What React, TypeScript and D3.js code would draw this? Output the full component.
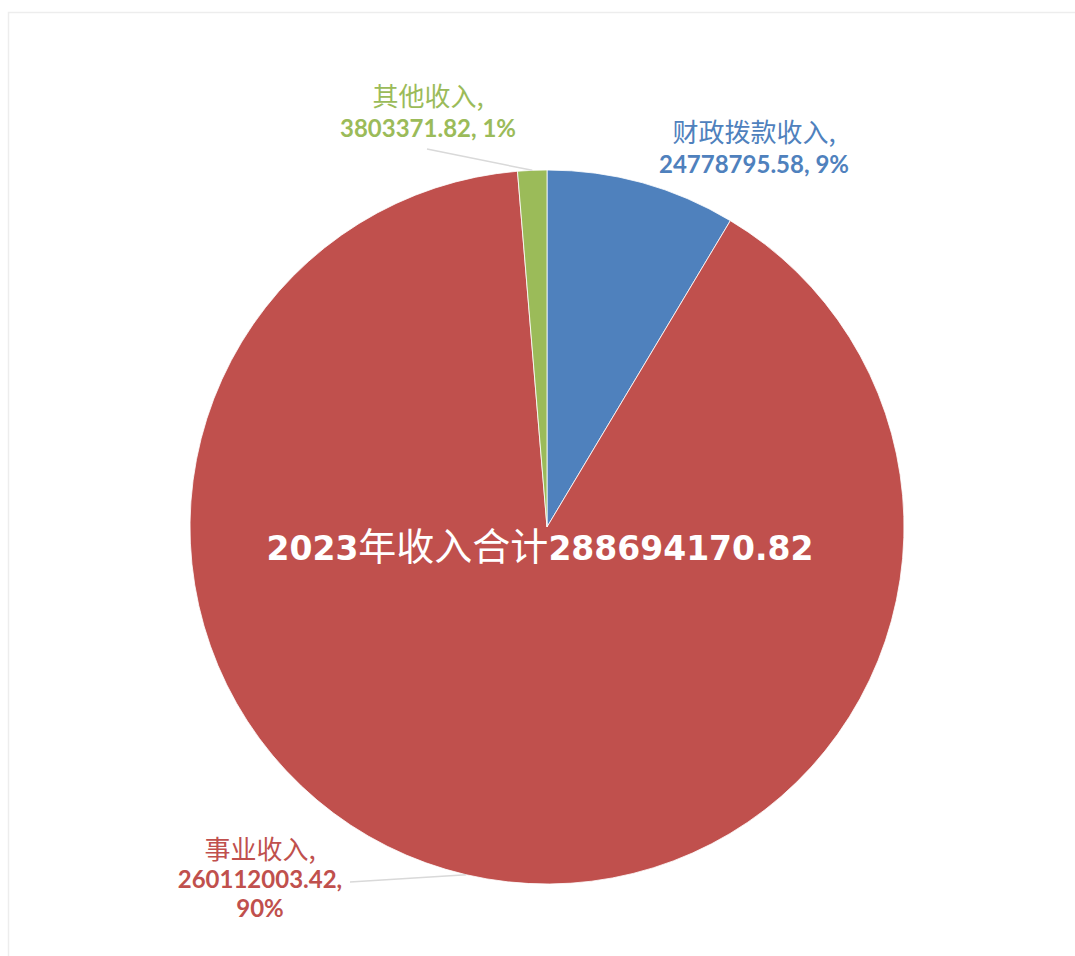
import React from 'react';
import * as d3 from 'd3';

// slices, clockwise from 12 o'clock
const categories = ['财政拨款收入', '事业收入', '其他收入'];
const values = [24778795.58, 260112003.42, 3803371.82];
const colors = ['#4F81BD', '#C0504D', '#9BBB59'];
const titleYear = '2023年收入合计';

const W = 1075;
const H = 956;
const cx = 547;
const cy = 527;
const radius = 357;

const cjkFont = '"Noto Sans CJK SC", sans-serif';
const numFont = 'Lato, "Open Sans", sans-serif';

// label placement (x, baseline of first line, line step, whether a leader is drawn)
const labelLayout = [
  { x: 754, y: 142, step: 31, leader: null as null | [number, number], wrap: false },
  { x: 260, y: 859, step: 29, leader: [350, 882] as [number, number], wrap: true },
  { x: 428, y: 106, step: 31, leader: [427, 149] as [number, number], wrap: false },
];

function App() {
  const total = d3.sum(values);
  const pie = d3.pie<number>().sort(null).value(d => d).startAngle(0).endAngle(2 * Math.PI);
  const arcs = pie(values);
  const arc = d3.arc<d3.PieArcDatum<number>>().innerRadius(0).outerRadius(radius);
  const edge = d3.arc<d3.PieArcDatum<number>>().innerRadius(radius).outerRadius(radius);
  const pct = d3.format('.0%');
  const num = d3.format('.2f');

  return (
    <svg width={W} height={H} viewBox={`0 0 ${W} ${H}`}
      style={{ position: 'absolute', left: 0, top: 0, background: '#fff' }}>
      <rect x={8.5} y={12.5} width={W} height={H} fill="#fff" stroke="#ededed" strokeWidth={1.5} />

      <g transform={`translate(${cx},${cy})`}>
        {arcs.map((a, i) => (
          <path key={i} d={arc(a) || ''} fill={colors[i]} stroke="#fff" strokeWidth={0.8} />
        ))}
      </g>

      {/* leader lines */}
      {arcs.map((a, i) => {
        const l = labelLayout[i].leader;
        if (!l) return null;
        const [ex, ey] = edge.centroid(a);
        return <line key={i} x1={l[0]} y1={l[1]} x2={cx + ex} y2={cy + ey} stroke="#d9d9d9" strokeWidth={1.5} />;
      })}

      {/* data labels */}
      {arcs.map((a, i) => {
        const L = labelLayout[i];
        const valueText = num(values[i]);
        const p = pct(values[i] / total);
        return (
          <g key={i} fill={colors[i]} textAnchor="middle">
            <text x={L.x} y={L.y} fontFamily={cjkFont} fontSize={26}>{categories[i]},</text>
            {L.wrap ? (
              <>
                <text x={L.x} y={L.y + L.step} fontFamily={numFont} fontWeight="bold" fontSize={24}>{valueText},</text>
                <text x={L.x} y={L.y + L.step * 2} fontFamily={numFont} fontWeight="bold" fontSize={24}>{p}</text>
              </>
            ) : (
              <text x={L.x} y={L.y + L.step} fontFamily={numFont} fontWeight="bold" fontSize={24}>{valueText}, {p}</text>
            )}
          </g>
        );
      })}

      {/* centre title */}
      <text x={540} y={560} textAnchor="middle" fill="#fff">
        <tspan fontFamily='"DejaVu Sans", sans-serif' fontWeight="bold" fontSize={33}>{titleYear.slice(0, 4)}</tspan>
        <tspan fontFamily={cjkFont} fontSize={38}>{titleYear.slice(4)}</tspan>
        <tspan fontFamily='"DejaVu Sans", sans-serif' fontWeight="bold" fontSize={33}>{num(total)}</tspan>
      </text>
    </svg>
  );
}

export default App;
